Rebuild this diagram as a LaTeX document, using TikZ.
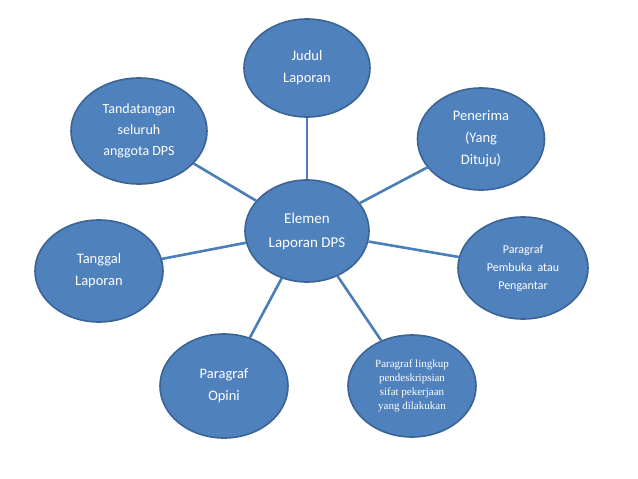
\documentclass[tikz,border=0pt]{standalone}
\usepackage{fontspec}
\setmainfont{Carlito}
\newfontfamily\smallserif{Liberation Serif}
\usetikzlibrary{shapes.geometric}
\definecolor{ElFill}{HTML}{4F81BD}
\definecolor{ElEdge}{HTML}{3B6494}
\definecolor{ElLine}{HTML}{4A7EBB}
\tikzset{
  bubble/.style={ellipse,draw=ElEdge,line width=1.6pt,fill=ElFill,text=white,
                 inner sep=0pt,align=center,minimum width=126pt,minimum height=100pt,
                 font=\fontsize{14.5}{22}\selectfont},
  spoke/.style={ElLine,line width=2.6pt},
}
\begin{document}
\begin{tikzpicture}[x=1pt,y=-1pt]
  \useasboundingbox[fill=white] (0,0) rectangle (638,479);
  % center
  \node[bubble,minimum width=124pt,minimum height=102pt,
        font=\fontsize{15}{24}\selectfont] (elemen) at (307,231) {Elemen\\Laporan DPS};
  % outer bubbles
  \node[bubble,minimum height=98pt] (judul) at (307,68) {Judul\\Laporan};
  \node[bubble,minimum width=127pt,minimum height=102pt] (penerima) at (481,139)
    {Penerima\\(Yang\\Dituju)};
  \node[bubble,minimum width=130pt,minimum height=102pt,
        font=\fontsize{12}{18}\selectfont] (pembuka) at (523,268)
    {Paragraf\\Pembuka\ \ atau\\Pengantar};
  \node[bubble,minimum width=128pt,minimum height=102pt,
        font=\smallserif\fontsize{11}{14}\selectfont] (lingkup) at (412,386)
    {Paragraf lingkup\\pendeskripsian\\sifat pekerjaan\\yang dilakukan};
  \node[bubble,minimum width=128pt,minimum height=104pt] (opini) at (224,386)
    {Paragraf\\Opini};
  \node[bubble,minimum width=128pt,minimum height=102pt] (tanggal) at (99,271)
    {Tanggal\\Laporan};
  \node[bubble,minimum width=136pt,minimum height=106pt,
        font=\fontsize{14}{21}\selectfont] (ttd) at (139,131)
    {Tandatangan\\seluruh\\anggota DPS};
  % spokes
  \foreach \outer in {judul,penerima,pembuka,lingkup,opini,tanggal,ttd}
    \draw[spoke] (elemen) -- (\outer);
\end{tikzpicture}
\end{document}
